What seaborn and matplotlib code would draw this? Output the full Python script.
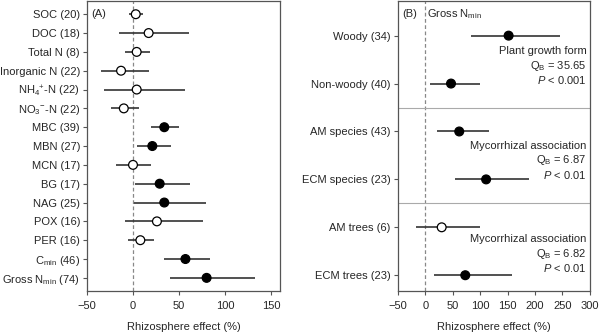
import matplotlib
matplotlib.use("Agg")
import matplotlib.pyplot as plt
import seaborn as sns
import pandas as pd
import numpy as np

# Panel A data
labels_a = ["SOC (20)", "DOC (18)", "Total N (8)", "Inorganic N (22)",
            r"NH$_4$$^{+}$-N (22)", r"NO$_3$$^{-}$-N (22)", "MBC (39)", "MBN (27)",
            "MCN (17)", "BG (17)", "NAG (25)", "POX (16)", "PER (16)",
            r"C$_{\rm min}$ (46)", r"Gross N$_{\rm min}$ (74)"]
mean_a = [3, 17, 4, -13, 4, -10, 34, 21, 0, 29, 34, 26, 8, 57, 80]
lo_a = [-4, -15, -9, -35, -31, -24, 20, 4, -18, 2, 1, -9, -5, 34, 40]
hi_a = [11, 61, 19, 17, 56, 7, 50, 41, 20, 62, 79, 76, 23, 84, 133]
sig_a = [False, False, False, False, False, False, True, True, False, True, True, False, False, True, True]

# Panel B data
labels_b = ["Woody (34)", "Non-woody (40)", "AM species (43)", "ECM species (23)",
            "AM trees (6)", "ECM trees (23)"]
mean_b = [152, 47, 62, 111, 30, 73]
lo_b = [84, 9, 21, 54, -16, 16]
hi_b = [246, 100, 116, 189, 100, 158]
sig_b = [True, True, True, True, False, True]

groups_b = ["Plant growth form", "Mycorrhizal association", "Mycorrhizal association"]
qb_b = ["35.65", "6.87", "6.82"]
p_b = ["0.001", "0.01", "0.01"]

sns.set_style("ticks")
plt.rcParams['font.family'] = ['Liberation Sans', 'DejaVu Sans']
plt.rcParams['mathtext.fontset'] = 'custom'
plt.rcParams['mathtext.rm'] = 'Liberation Sans'
plt.rcParams['mathtext.it'] = 'Liberation Sans:italic'
plt.rcParams['mathtext.bf'] = 'Liberation Sans:bold'
plt.rcParams['font.size'] = 8

fig = plt.figure(figsize=(6, 3.33), dpi=100)
axA = fig.add_axes([0.145, 0.126, 0.322, 0.872])
axB = fig.add_axes([0.663, 0.126, 0.32, 0.872])

spine_col = "#555555"
line_col = "#333333"

def draw(ax, labels, mean, lo, hi, sig):
    pos = np.arange(len(labels))
    df = pd.DataFrame({"pos": pos, "mean": mean, "lo": lo, "hi": hi,
                       "sig": ["sig" if s else "ns" for s in sig]})
    ax.axvline(0, color="#888888", ls=(0, (3, 2)), lw=0.9, zorder=0)
    ax.hlines(df["pos"], df["lo"], df["hi"], color=line_col, lw=1.2, zorder=1)
    sns.scatterplot(data=df, x="mean", y="pos", hue="sig",
                    palette={"sig": "black", "ns": "white"},
                    edgecolor="black", linewidth=0.9, s=40, legend=False,
                    ax=ax, zorder=3)
    ax.set_yticks(pos)
    ax.set_yticklabels(labels)
    ax.set_ylabel("")
    ax.set_xlabel("Rhizosphere effect (%)", labelpad=8)
    for s in ax.spines.values():
        s.set_visible(True)
        s.set_color(spine_col)
        s.set_linewidth(0.9)
    ax.tick_params(axis="both", length=3, color=spine_col, labelsize=8)
    ax.tick_params(axis="x", pad=4)
    ax.tick_params(axis="y", pad=2)

draw(axA, labels_a, mean_a, lo_a, hi_a, sig_a)
axA.set_xlim(-50, 160)
axA.set_xticks([-50, 0, 50, 100, 150])
axA.set_xticklabels(["\u221250", "0", "50", "100", "150"])
axA.set_ylim(14.7, -0.72)
axA.text(-45, 0, "(A)", va="center", ha="left", fontsize=8)

draw(axB, labels_b, mean_b, lo_b, hi_b, sig_b)
axB.set_xlim(-50, 300)
axB.set_xticks([-50, 0, 50, 100, 150, 200, 250, 300])
axB.set_xticklabels(["\u221250", "0", "50", "100", "150", "200", "250", "300"])
axB.set_ylim(5.33, -0.73)
for yb in [1.5, 3.5]:
    axB.axhline(yb, color="#aaaaaa", lw=0.8)
axB.text(-41, -0.45, "(B)", va="center", ha="left", fontsize=8)
axB.text(4, -0.45, r"Gross N$_{\rm min}$", va="center", ha="left", fontsize=8)

starts = [0.33, 2.3, 4.25]
for i, (g, q, p) in enumerate(zip(groups_b, qb_b, p_b)):
    y0 = starts[i]
    axB.text(294, y0, g, ha="right", va="center", fontsize=8)
    axB.text(294, y0 + 0.3, r"Q$_{\rm B}$ = " + q, ha="right", va="center", fontsize=8)
    axB.text(294, y0 + 0.6, r"$P$ < " + p, ha="right", va="center", fontsize=8)

fig.savefig("out.png", dpi=100)
